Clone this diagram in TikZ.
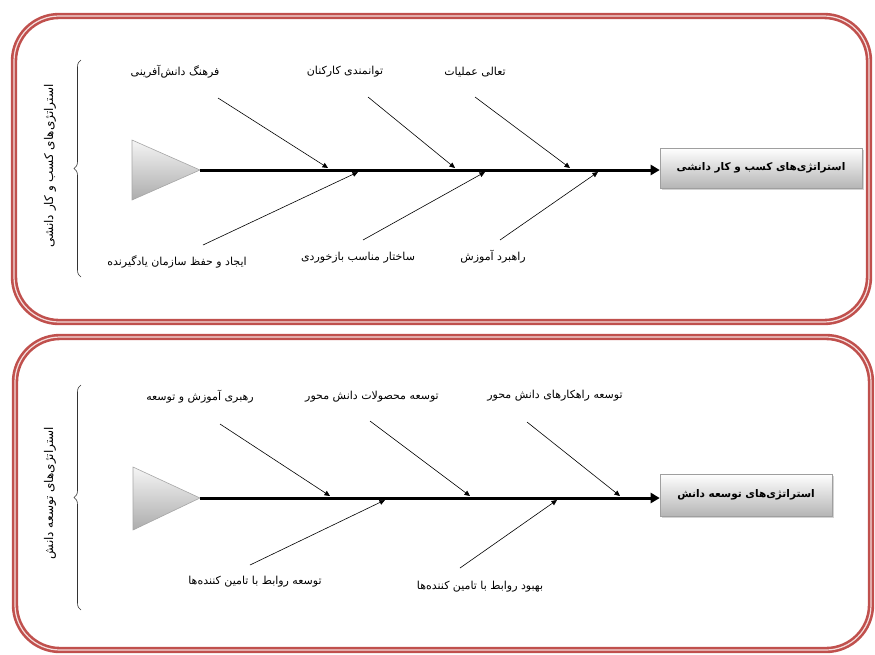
\documentclass[tikz,border=0pt]{standalone}
\usepackage{fontspec}
\newfontfamily\fa[Script=Arabic]{DejaVu Sans}
\TeXXeTstate=1
\usetikzlibrary{arrows.meta,shadows,decorations.pathreplacing}
\newcommand{\pfa}[1]{\fa\beginR #1\endR}
\definecolor{panelred}{HTML}{C0504D}
\definecolor{panelstripe}{HTML}{F4DEDD}
\tikzset{
  panel/.style={draw=panelred, line width=2.6pt, double=panelstripe,
    double distance=1.2pt, rounded corners=45pt},
  tail/.style={draw=gray!70, line width=0.6pt, top color=gray!8, bottom color=gray!65},
  headbox/.style={draw=gray!75, line width=0.6pt, top color=white, bottom color=gray!58,
    minimum height=40pt, inner sep=2pt,
    drop shadow={opacity=0.35, shadow xshift=1.5pt, shadow yshift=-1.5pt},
    font=\fa\bfseries\fontsize{10.5}{12}\selectfont},
  spine/.style={line width=3pt, -{Triangle[length=9pt,width=10pt]}},
  bone/.style={line width=0.6pt, -{Triangle[length=5.5pt,width=5pt]}},
  cause/.style={font=\fa\fontsize{11}{13}\selectfont, inner sep=1pt},
  side/.style={font=\fa\fontsize{12}{14}\selectfont, rotate=90, inner sep=1pt},
  bracket/.style={line width=0.6pt, draw=black!80,
    decorate, decoration={brace, amplitude=7pt}},
}
\begin{document}
\begin{tikzpicture}[x=1pt, y=-1pt]
\useasboundingbox (0,0) rectangle (875,654);

% ---------- upper panel: business strategies ----------
\draw[panel] (14,16) rectangle (869,322);

\draw[bracket] (81,277) -- (81,60);
\node[side] (s1) at (50,166) {\pfa{استراتژی‌های کسب و کار دانشی}};

\draw[tail] (132,140) -- (200,170) -- (132,200) -- cycle;
\coordinate (t1) at (200,170);
\node[headbox, minimum width=202pt] (h1) at (761,168) {\pfa{استراتژی‌های کسب و کار دانشی}};
\draw[spine] (t1) -- (t1 -| h1.west);

\node[cause] (a1) at (175,72) {\pfa{فرهنگ دانش‌آفرینی}};
\node[cause] (a2) at (345,72) {\pfa{توانمندی کارکنان}};
\node[cause] (a3) at (475,72) {\pfa{تعالی عملیات}};
\node[cause] (b1) at (177,262) {\pfa{ایجاد و حفظ سازمان یادگیرنده}};
\node[cause] (b2) at (358,258) {\pfa{ساختار مناسب بازخوردی}};
\node[cause] (b3) at (493,257) {\pfa{راهبرد آموزش}};

\coordinate (a1s) at (218,98);  \coordinate (a1e) at (328,168);
\coordinate (a2s) at (368,97);  \coordinate (a2e) at (455,168);
\coordinate (a3s) at (475,97);  \coordinate (a3e) at (570,168);
\coordinate (b1s) at (203,245); \coordinate (b1e) at (358,172);
\coordinate (b2s) at (363,240); \coordinate (b2e) at (485,172);
\coordinate (b3s) at (500,240); \coordinate (b3e) at (598,172);
\foreach \b in {a1,a2,a3,b1,b2,b3} \draw[bone] (\b s) -- (\b e);

% ---------- lower panel: knowledge development strategies ----------
\draw[panel] (15,337) rectangle (871,650);

\draw[bracket] (81,610) -- (81,385);
\node[side] (s2) at (50,493) {\pfa{استراتژی‌های توسعه دانش}};

\draw[tail] (133,467) -- (200,498) -- (133,530) -- cycle;
\coordinate (t2) at (200,498);
\node[headbox, minimum width=172pt, minimum height=42pt] (h2) at (746,495) {\pfa{استراتژی‌های توسعه دانش}};
\draw[spine] (t2) -- (t2 -| h2.west);

\node[cause] (c1) at (200,397) {\pfa{رهبری آموزش و توسعه}};
\node[cause] (c2) at (372,397) {\pfa{توسعه محصولات دانش محور}};
\node[cause] (c3) at (555,396) {\pfa{توسعه راهکارهای دانش محور}};
\node[cause] (d1) at (255,582) {\pfa{توسعه روابط با تامین کننده‌ها}};
\node[cause] (d2) at (480,587) {\pfa{بهبود روابط با تامین کننده‌ها}};

\coordinate (c1s) at (220,424); \coordinate (c1e) at (330,496);
\coordinate (c2s) at (370,421); \coordinate (c2e) at (470,496);
\coordinate (c3s) at (527,422); \coordinate (c3e) at (620,496);
\coordinate (d1s) at (250,565); \coordinate (d1e) at (385,500);
\coordinate (d2s) at (460,568); \coordinate (d2e) at (557,500);
\foreach \b in {c1,c2,c3,d1,d2} \draw[bone] (\b s) -- (\b e);
\end{tikzpicture}
\end{document}
